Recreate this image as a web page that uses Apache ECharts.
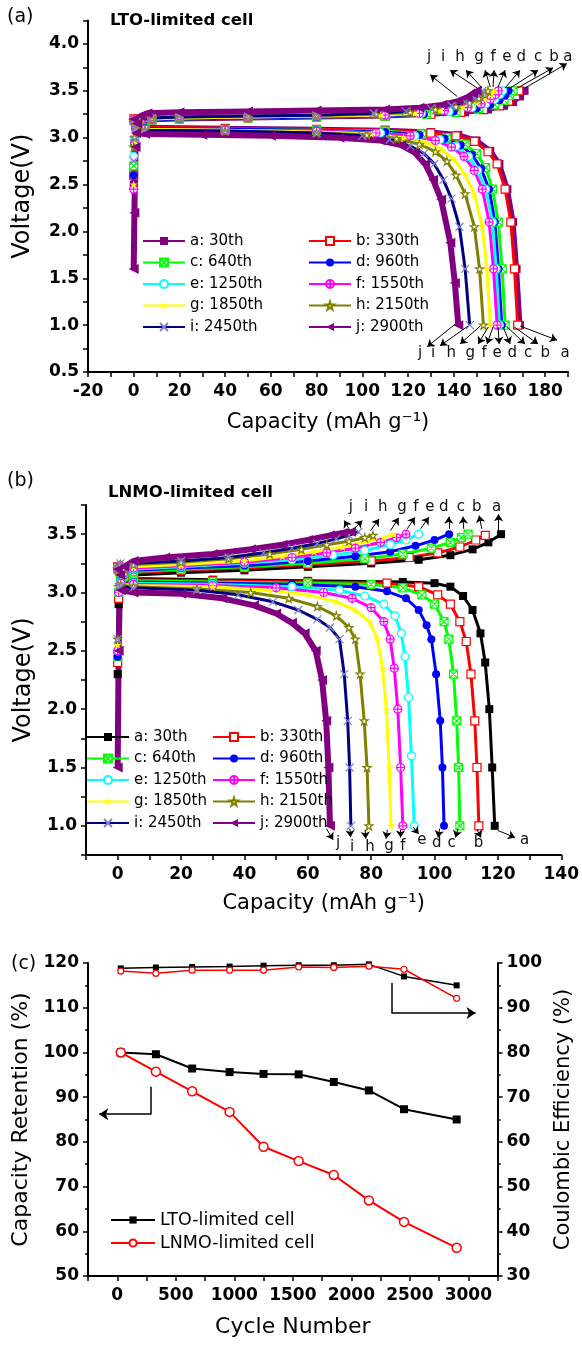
<!DOCTYPE html>
<html><head><meta charset="utf-8">
<script src="https://cdn.jsdelivr.net/npm/echarts@6/dist/echarts.min.js"></script>
<style>html,body{margin:0;padding:0;background:#fff}#c{width:582px;height:1345px}</style>
</head><body><div id="c"></div>
<script>
const FONT = 'DejaVu Sans';
const cycleNames = ['a: 30th','b: 330th','c: 640th','d: 960th','e: 1250th','f: 1550th','g: 1850th','h: 2150th','i: 2450th','j: 2900th'];

// Panel (a) LTO-limited: charge branches [capacity, voltage]
const A_charge = [
 [[0,2.5],[0.4,2.95],[1,3.12],[3,3.17],[8,3.19],[20,3.2],[50,3.21],[80,3.22],[110,3.23],[130,3.25],[145,3.27],[155,3.3],[162,3.34],[166,3.38],[169,3.44],[171,3.5]],
 [[0,2.6],[0.4,2.95],[1,3.12],[3,3.17],[8,3.19],[20,3.2],[50,3.21],[80,3.22],[110,3.23],[130,3.25],[143,3.27],[153,3.3],[160,3.34],[164,3.39],[167,3.45],[168.5,3.5]],
 [[0,2.7],[0.4,2.95],[1,3.12],[3,3.17],[8,3.19],[20,3.2],[50,3.21],[80,3.22],[110,3.23],[128,3.25],[141,3.27],[151,3.31],[158,3.35],[162,3.4],[164.5,3.45],[166,3.5]],
 [[0,2.6],[0.4,2.95],[1,3.12],[3,3.17],[8,3.19],[20,3.2],[50,3.21],[80,3.22],[110,3.235],[127,3.25],[140,3.28],[150,3.31],[156,3.35],[160,3.4],[162.5,3.45],[164,3.5]],
 [[0,2.8],[0.4,2.98],[1,3.13],[3,3.18],[8,3.2],[20,3.21],[50,3.22],[80,3.23],[110,3.24],[126,3.26],[138,3.28],[148,3.32],[154,3.36],[158,3.41],[160.3,3.46],[161.5,3.5]],
 [[0,2.45],[0.4,2.95],[1,3.13],[3,3.18],[8,3.2],[20,3.21],[50,3.22],[80,3.23],[110,3.24],[125,3.26],[136,3.29],[146,3.32],[152,3.36],[156,3.41],[158.3,3.46],[159.5,3.5]],
 [[0,2.5],[0.4,2.95],[1,3.13],[3,3.18],[8,3.2],[20,3.21],[50,3.22],[80,3.23],[108,3.24],[123,3.26],[134,3.29],[144,3.33],[150,3.37],[154,3.42],[156.3,3.46],[157.5,3.5]],
 [[0,2.9],[0.4,3.0],[1,3.14],[3,3.19],[8,3.21],[20,3.22],[50,3.23],[80,3.24],[106,3.25],[121,3.27],[132,3.3],[141,3.33],[147,3.37],[151,3.42],[153.8,3.46],[155,3.5]],
 [[0,2.75],[0.4,2.98],[1,3.14],[3,3.19],[8,3.21],[20,3.22],[50,3.23],[80,3.24],[105,3.26],[119,3.28],[130,3.31],[139,3.34],[145,3.38],[149,3.42],[151.4,3.46],[152.5,3.5]],
 [[0,1.6],[0.3,2.2],[0.8,2.9],[1.5,3.15],[3,3.23],[6,3.26],[20,3.27],[50,3.28],[80,3.29],[110,3.3],[125,3.32],[135,3.35],[142,3.39],[146,3.43],[148.5,3.47],[150,3.5]]
];
// Panel (a) discharge branches
const A_discharge = [
 [[0,3.2],[1,3.12],[5,3.11],[40,3.1],[80,3.09],[110,3.08],[130,3.06],[142,3.03],[150,2.97],[156,2.86],[160,2.72],[163.5,2.45],[166,2.1],[167.5,1.6],[169,1.0]],
 [[0,3.2],[1,3.12],[5,3.11],[40,3.1],[80,3.09],[110,3.08],[130,3.05],[141,3.02],[149,2.96],[155,2.85],[159,2.72],[162.5,2.45],[165,2.1],[166.6,1.6],[168,1.0]],
 [[0,3.19],[1,3.11],[5,3.1],[40,3.09],[80,3.08],[110,3.07],[126,3.04],[137,3.0],[145,2.93],[150,2.83],[154,2.68],[157,2.45],[159.5,2.1],[161.2,1.6],[162.5,1.0]],
 [[0,3.19],[1,3.11],[5,3.1],[40,3.09],[80,3.08],[110,3.06],[125,3.03],[136,2.99],[143,2.92],[148,2.82],[152,2.67],[155.5,2.45],[158,2.1],[159.6,1.6],[161,1.0]],
 [[0,3.19],[1,3.1],[5,3.09],[40,3.08],[80,3.07],[108,3.05],[123,3.02],[134,2.98],[141,2.91],[146.5,2.8],[150.5,2.65],[154,2.45],[157,2.1],[158.6,1.6],[160,1.0]],
 [[0,3.19],[1,3.1],[5,3.09],[40,3.08],[80,3.07],[106,3.05],[121,3.02],[132,2.97],[139,2.9],[144.5,2.8],[149,2.65],[152.5,2.45],[155.5,2.1],[157.4,1.6],[159,1.0]],
 [[0,3.19],[1,3.1],[5,3.09],[40,3.08],[80,3.06],[104,3.04],[118,3.0],[128,2.95],[135,2.87],[140.5,2.76],[145,2.6],[149,2.4],[152.5,2.05],[154.5,1.6],[156,1.0]],
 [[0,3.18],[1,3.09],[5,3.08],[40,3.07],[80,3.05],[102,3.03],[115,2.99],[125,2.93],[132,2.85],[137,2.75],[141,2.6],[145,2.4],[149,2.05],[151.3,1.6],[153,1.0]],
 [[0,3.18],[1,3.09],[5,3.08],[40,3.07],[80,3.05],[100,3.02],[112,2.98],[121,2.91],[127,2.83],[131.5,2.72],[135.5,2.55],[139,2.35],[142.5,2.05],[145,1.6],[147,1.0]],
 [[0,3.2],[1,3.05],[5,3.04],[30,3.03],[60,3.02],[90,3.0],[108,2.97],[117,2.92],[123,2.84],[127.5,2.72],[131,2.55],[134.5,2.34],[138.5,1.88],[140.5,1.45],[142,1.0]]
];
// Panel (b) LNMO-limited: charge branches
const B_charge = [
 [[0,2.3],[0.3,2.9],[0.8,3.2],[2,3.12],[5,3.15],[20,3.17],[40,3.19],[60,3.22],[80,3.25],[95,3.28],[105,3.32],[112,3.37],[117,3.43],[121,3.5]],
 [[0,2.4],[0.3,2.95],[0.8,3.21],[2,3.13],[5,3.17],[20,3.19],[40,3.21],[60,3.24],[80,3.27],[92,3.3],[101,3.34],[108,3.39],[113,3.45],[116,3.49]],
 [[0,2.45],[0.3,3.0],[0.8,3.21],[2,3.14],[5,3.18],[20,3.2],[40,3.22],[60,3.25],[78,3.29],[90,3.33],[99,3.38],[105,3.43],[108.5,3.47],[110.6,3.5]],
 [[0,2.45],[0.3,3.0],[0.8,3.22],[2,3.15],[5,3.19],[20,3.21],[40,3.23],[60,3.27],[75,3.31],[86,3.35],[94,3.4],[100,3.45],[104.6,3.5]],
 [[0,2.5],[0.3,3.0],[0.8,3.22],[2,3.16],[5,3.2],[20,3.22],[40,3.25],[55,3.28],[68,3.32],[78,3.36],[86,3.41],[91,3.45],[95,3.5]],
 [[0,2.5],[0.3,3.0],[0.8,3.23],[2,3.17],[5,3.21],[20,3.23],[40,3.26],[55,3.3],[66,3.34],[75,3.38],[83,3.43],[88,3.47],[91,3.5]],
 [[0,2.55],[0.3,3.02],[0.8,3.23],[2,3.18],[5,3.22],[20,3.24],[40,3.27],[52,3.31],[62,3.35],[71,3.39],[79,3.44],[84,3.47],[87,3.5]],
 [[0,2.6],[0.3,3.05],[0.8,3.24],[2,3.2],[5,3.24],[20,3.26],[35,3.29],[48,3.33],[58,3.37],[66,3.41],[73,3.44],[78,3.47],[80.6,3.49]],
 [[0,2.6],[0.3,3.05],[0.8,3.25],[2,3.21],[5,3.25],[20,3.27],[35,3.3],[46,3.34],[55,3.38],[63,3.42],[69,3.46],[73,3.49],[76,3.52]],
 [[0,1.5],[0.3,2.5],[0.8,3.15],[2,3.22],[5,3.27],[15,3.3],[30,3.33],[42,3.37],[52,3.41],[60,3.45],[67,3.49],[71,3.51],[73.6,3.52]]
];
// Panel (b) discharge branches
const B_discharge = [
 [[0,3.22],[1,3.13],[5,3.12],[30,3.11],[60,3.1],[90,3.09],[100,3.08],[105,3.05],[109,2.97],[112,2.85],[114.5,2.65],[116,2.4],[117.3,2.0],[118.2,1.5],[119,1.0]],
 [[0,3.22],[1,3.12],[5,3.11],[30,3.1],[60,3.09],[85,3.08],[95,3.05],[101,2.98],[105,2.9],[108,2.75],[110,2.58],[111.5,2.3],[112.7,1.9],[113.4,1.5],[114,1.0]],
 [[0,3.2],[1,3.11],[5,3.1],[30,3.09],[60,3.08],[80,3.07],[90,3.04],[96,2.98],[100,2.9],[103,2.75],[104.5,2.6],[106,2.3],[107,1.9],[107.6,1.5],[108,1.0]],
 [[0,3.2],[1,3.1],[5,3.09],[30,3.08],[55,3.07],[75,3.05],[85,3.01],[91,2.95],[95,2.85],[97.5,2.72],[99,2.6],[100.5,2.3],[101.8,1.9],[102.5,1.5],[103,1.0]],
 [[0,3.2],[1,3.09],[5,3.08],[30,3.07],[55,3.05],[70,3.02],[78,2.97],[84,2.9],[87.5,2.8],[89.5,2.65],[90.7,2.45],[91.8,2.1],[92.7,1.6],[93.6,1.0]],
 [[0,3.2],[1,3.08],[5,3.07],[30,3.06],[50,3.04],[65,3.0],[74,2.95],[80,2.87],[84,2.75],[86,2.6],[87.3,2.35],[88.4,2.0],[89.3,1.5],[90,1.0]],
 [[0,3.2],[1,3.07],[5,3.06],[30,3.05],[48,3.02],[60,2.98],[69,2.92],[75,2.85],[79.5,2.75],[82,2.6],[83.6,2.35],[84.8,2.0],[85.7,1.5],[86.3,1.0]],
 [[0,3.2],[1,3.06],[5,3.05],[25,3.03],[42,3.0],[54,2.95],[63,2.88],[69,2.8],[73,2.7],[75,2.6],[76.5,2.3],[77.8,1.9],[78.7,1.5],[79.3,1.0]],
 [[0,3.2],[1,3.05],[5,3.04],[25,3.02],[38,2.98],[49,2.92],[57,2.85],[63,2.77],[67,2.7],[70,2.6],[71.5,2.3],[72.6,1.9],[73.2,1.5],[73.6,1.0]],
 [[0,3.2],[1,3.02],[5,3.0],[20,2.99],[33,2.95],[43,2.89],[50,2.82],[55,2.74],[59,2.65],[62.5,2.5],[64.5,2.25],[65.8,1.9],[66.5,1.5],[67,1.0]]
];

// Panel (c)
const cycleNumbers = [30,330,640,960,1250,1550,1850,2150,2450,2900];
const retentionLTO  = [100,99.6,96.4,95.6,95.2,95.1,93.4,91.5,87.3,85.0];
const retentionLNMO = [100,95.7,91.3,86.7,78.9,75.7,72.6,66.9,62.1,56.3];
const ceLTO  = [98.8,99.0,99.1,99.2,99.4,99.5,99.5,99.7,97.0,95.0];
const ceLNMO = [98.2,97.7,98.4,98.4,98.4,99.1,99.0,99.3,98.6,92.1];

// annotation arrows: [letter, tailX, tailY, headX, headY] and letter positions [letter, x, y]
const A_topArrows = [['j',141.5,3.44,129.7,3.67],['i',150.3,3.53,138.4,3.72],['h',152.4,3.53,145.4,3.72],['g',156,3.54,153.7,3.72],['f',157.2,3.54,157.7,3.72],['e',159.4,3.54,162.5,3.72],['d',162.5,3.53,169,3.72],['c',164.7,3.53,176.9,3.72],['b',167.9,3.53,183.5,3.745],['a',171.2,3.53,189.5,3.79]];
const A_topLetters = [['j',129.2,3.86],['i',135.4,3.86],['h',142.8,3.86],['g',151.1,3.86],['f',157.2,3.86],['e',163.3,3.86],['d',169.5,3.86],['c',176.9,3.86],['b',183.9,3.86],['a',189.9,3.86]];
const A_botArrows = [['j',140.6,1.01,128.4,0.77],['i',146.3,0.99,134.0,0.78],['h',151.6,0.99,142.8,0.80],['g',155.1,0.98,150.7,0.80],['f',157.2,0.98,154.6,0.80],['e',159.4,0.98,159.9,0.80],['d',161.6,0.98,164.7,0.80],['c',163.4,0.98,171.2,0.80],['b',166.5,0.98,176.9,0.80],['a',169.1,0.99,185.2,0.84]];
const A_botLetters = [['j',125.3,0.70],['i',131.0,0.70],['h',138.9,0.70],['g',147.2,0.70],['f',153.3,0.70],['e',159.0,0.70],['d',165.6,0.70],['c',172.6,0.70],['b',180.0,0.70],['a',188.7,0.70]];
const B_topArrows = [['j',73.0,3.546,71.5,3.617],['i',74.6,3.546,77.2,3.617],['h',79.8,3.53,82.5,3.63],['g',86.1,3.53,88.7,3.64],['f',91.4,3.546,93.8,3.645],['e',95.6,3.546,98.2,3.645],['d',104.5,3.546,104.5,3.65],['c',109.2,3.546,109.0,3.65],['b',114.9,3.546,114.1,3.66],['a',120.2,3.53,120.2,3.67]];
const B_topLetters = [['j',73.6,3.73],['i',78.4,3.73],['h',83.7,3.73],['g',89.7,3.73],['f',94.1,3.73],['e',98.5,3.73],['d',102.9,3.73],['c',108.3,3.73],['b',113.3,3.73],['a',119.6,3.73]];
const B_botArrows = [['j',65.9,0.975,68.0,0.88],['i',73.3,0.975,73.5,0.903],['h',78.1,0.967,78.3,0.89],['g',85.1,0.967,84.7,0.89],['f',89.3,0.967,89.3,0.9],['e',93.2,0.99,95.0,0.93],['d',101.6,0.975,101.1,0.9],['c',107.4,0.975,106.6,0.9],['b',113.4,0.967,114.7,0.9],['a',120.0,0.96,125.4,0.9]];
const B_botLetters = [['j',69.6,0.85],['i',74.0,0.815],['h',79.6,0.815],['g',85.6,0.83],['f',90.0,0.83],['e',96.0,0.875],['d',100.7,0.85],['c',105.4,0.85],['b',113.9,0.85],['a',128.4,0.875]];
// panel (c) bent arrows: [x1,y1,x2,y2,x3,y3] (retention-axis units)
const C_arrows = [[289,92.3,289,86.2,-154,86.2],[2343,115.5,2343,108.8,3062,108.8]];

// ---------- styles ----------
const colorsA = ['#800080','#ff0000','#00ff00','#0000ff','#00ffff','#ff00ff','#ffff00','#808000','#000080','#800080'];
const colorsB = ['#000000','#ff0000','#00ff00','#0000ff','#00ffff','#ff00ff','#ffff00','#808000','#000080','#800080'];
const STAR = 'path://M5,0L6.18,3.6L10,3.6L6.9,5.9L8.1,9.5L5,7.3L1.9,9.5L3.1,5.9L0,3.6L3.8,3.6Z';
const SYM = [
 {symbol:'rect', fill:null},
 {symbol:'rect', fill:'#fff'},
 {symbol:'path://M0,0L10,0L10,10L0,10Z M0,0L10,10 M10,0L0,10', fill:'#fff'},
 {symbol:'circle', fill:null},
 {symbol:'circle', fill:'#fff'},
 {symbol:'path://M0,5A5,5,0,1,0,10,5A5,5,0,1,0,0,5Z M5,0L5,10 M0,5L10,5', fill:'#fff'},
 {symbol:STAR, fill:null},
 {symbol:STAR, fill:'#fff'},
 {symbol:'path://M0,0L10,10 M10,0L0,10', fill:'rgba(0,0,0,0)', stroke:'#8080d0'},
 {symbol:'path://M0,5L10,0L10,10Z', fill:null}
];
const lineWidths = [3, 3, 3, 3, 3, 3, 3, 3, 3, 6];

function curve(name, data, i, colors, gi, widths) {
  const d = SYM[i], col = colors[i], filled = d.fill === null;
  return {
    name: name, type: 'line', xAxisIndex: gi, yAxisIndex: gi, data: data,
    symbol: d.symbol, symbolSize: i === 9 ? 10 : 8, showAllSymbol: true,
    animation: false, silent: true,
    lineStyle: {color: col, width: widths[i]},
    itemStyle: {color: filled ? col : d.fill, borderColor: d.stroke || col, borderWidth: filled ? 0 : 1.2}
  };
}
function annot(gi, arrows, letters) {
  return {
    type: 'line', xAxisIndex: gi, yAxisIndex: gi, data: [], silent: true, animation: false, clip: false,
    markLine: {
      silent: true, animation: false, symbol: ['none', 'arrow'], symbolSize: 7, precision: 3,
      lineStyle: {color: '#000', width: 1, type: 'solid'}, label: {show: false},
      emphasis: {disabled: true},
      data: arrows.map(r => [{coord: [r[1], r[2]]}, {coord: [r[3], r[4]]}])
    },
    markPoint: {
      silent: true, animation: false, symbol: 'rect', symbolSize: 1,
      itemStyle: {color: 'rgba(0,0,0,0)'},
      label: {show: true, position: 'inside', formatter: '{b}', fontFamily: FONT, fontSize: 15, color: '#111'},
      data: letters.map(r => ({name: r[0], coord: [r[1], r[2]]}))
    }
  };
}

const series = [];
const widthsA = [5, 3, 3, 3, 3, 3, 3, 3, 3, 6];
cycleNames.forEach((n, i) => {
  series.push(curve(n, A_charge[i], i, colorsA, 0, widthsA));
  series.push(curve(n, A_discharge[i], i, colorsA, 0, widthsA));
});
const namesB = cycleNames.map(n => n + ' ');
namesB.forEach((n, i) => {
  series.push(curve(n, B_charge[i], i, colorsB, 1, lineWidths));
  series.push(curve(n, B_discharge[i], i, colorsB, 1, lineWidths));
});
series.push(annot(0, A_topArrows, A_topLetters));
series.push(annot(0, A_botArrows, A_botLetters));
series.push(annot(1, B_topArrows, B_topLetters));
series.push(annot(1, B_botArrows, B_botLetters));

const zip = (xs, ys) => xs.map((x, k) => [x, ys[k]]);
series.push({name: 'LTO-limited cell', type: 'line', xAxisIndex: 2, yAxisIndex: 2, data: zip(cycleNumbers, retentionLTO),
  symbol: 'rect', symbolSize: 8, animation: false, lineStyle: {color: '#000', width: 2}, itemStyle: {color: '#000'}});
series.push({name: 'LNMO-limited cell', type: 'line', xAxisIndex: 2, yAxisIndex: 2, data: zip(cycleNumbers, retentionLNMO),
  symbol: 'circle', symbolSize: 9, animation: false, lineStyle: {color: '#ff0000', width: 2}, itemStyle: {color: '#fff', borderColor: '#ff0000', borderWidth: 1.5}});
series.push({name: 'CE LTO', type: 'line', xAxisIndex: 2, yAxisIndex: 3, data: zip(cycleNumbers, ceLTO),
  symbol: 'rect', symbolSize: 6, animation: false, lineStyle: {color: '#000', width: 1.5}, itemStyle: {color: '#000'}});
series.push({name: 'CE LNMO', type: 'line', xAxisIndex: 2, yAxisIndex: 3, data: zip(cycleNumbers, ceLNMO),
  symbol: 'circle', symbolSize: 6, animation: false, lineStyle: {color: '#ff0000', width: 1.5}, itemStyle: {color: '#fff', borderColor: '#ff0000', borderWidth: 1.2}});
series.push({type: 'line', xAxisIndex: 2, yAxisIndex: 2, data: [], silent: true, animation: false, clip: false,
  markLine: {silent: true, animation: false, symbol: ['none', 'none'], symbolSize: 9, precision: 3, label: {show: false},
    lineStyle: {color: '#000', width: 1.5, type: 'solid'}, emphasis: {disabled: true},
    data: C_arrows.flatMap(r => [
      [{coord: [r[0], r[1]]}, {coord: [r[2], r[3]]}],
      [{coord: [r[2], r[3]]}, {coord: [r[4], r[5]], symbol: 'arrow'}]
    ])}});

function axis(extra) {
  const base = {
    type: 'value',
    axisLine: {show: true, onZero: false, lineStyle: {color: '#000', width: 2}},
    axisTick: {show: true, inside: false, length: 5, lineStyle: {color: '#000', width: 1.5}},
    minorTick: {show: false},
    splitLine: {show: false},
    axisLabel: {color: '#000', fontFamily: FONT, fontWeight: 'bold', fontSize: 17, margin: 9},
    nameLocation: 'middle',
    nameTextStyle: {color: '#000', fontFamily: FONT, fontSize: 21}
  };
  const out = Object.assign({}, base, extra);
  ['axisLabel', 'nameTextStyle', 'axisTick', 'minorTick'].forEach(k => {
    if (extra[k]) out[k] = Object.assign({}, base[k], extra[k]);
  });
  return out;
}
const half = v => (Math.abs(v * 2 - Math.round(v * 2)) < 1e-6 ? v.toFixed(1) : '');

const legendText = {fontFamily: FONT, fontSize: 15, color: '#000', lineHeight: 16};
const legendBase = {orient: 'vertical', itemWidth: 42, itemHeight: 10, itemGap: 5.5, selectedMode: false, padding: 0, textStyle: legendText};

const option = {
  backgroundColor: '#fff',
  animation: false,
  textStyle: {fontFamily: FONT},
  title: [
    {text: '(a)', left: 7, top: 8, padding: 0, textStyle: {fontFamily: FONT, fontSize: 19, fontWeight: 'normal', color: '#000'}},
    {text: 'LTO-limited cell', left: 110, top: 12, padding: 0, textStyle: {fontFamily: FONT, fontSize: 16.5, fontWeight: 'bold', color: '#000'}},
    {text: '(b)', left: 7, top: 472, padding: 0, textStyle: {fontFamily: FONT, fontSize: 19, fontWeight: 'normal', color: '#000'}},
    {text: 'LNMO-limited cell', left: 108, top: 484, padding: 0, textStyle: {fontFamily: FONT, fontSize: 16.5, fontWeight: 'bold', color: '#000'}},
    {text: '(c)', left: 11, top: 955, padding: 0, textStyle: {fontFamily: FONT, fontSize: 19, fontWeight: 'normal', color: '#000'}}
  ],
  legend: [
    Object.assign({}, legendBase, {data: cycleNames.filter((_, k) => k % 2 === 0), left: 142, top: 233}),
    Object.assign({}, legendBase, {data: cycleNames.filter((_, k) => k % 2 === 1), left: 308, top: 233}),
    Object.assign({}, legendBase, {data: namesB.filter((_, k) => k % 2 === 0), left: 86, top: 729}),
    Object.assign({}, legendBase, {data: namesB.filter((_, k) => k % 2 === 1), left: 212, top: 729}),
    Object.assign({}, legendBase, {data: ['LTO-limited cell', 'LNMO-limited cell'], left: 110, top: 1211, itemWidth: 44, itemHeight: 9, itemGap: 5, textStyle: {fontFamily: FONT, fontSize: 17.5, color: '#000', lineHeight: 18}})
  ],
  grid: [
    {left: 88, top: 20.5, width: 480, height: 351.5},
    {left: 86, top: 505, width: 477, height: 350},
    {left: 88, top: 963, width: 427, height: 313}
  ],
  xAxis: [
    axis({gridIndex: 0, min: -20, max: 190, interval: 10, name: 'Capacity (mAh g\u207B\u00B9)', nameGap: 40,
      axisLabel: {margin: 11, formatter: v => (v % 20 === 0 ? String(v) : '')}}),
    axis({gridIndex: 1, min: -10, max: 140, interval: 10, name: 'Capacity (mAh g\u207B\u00B9)', nameGap: 38,
      axisLabel: {margin: 11, formatter: v => (v % 20 === 0 ? String(v) : '')}}),
    axis({gridIndex: 2, min: -250, max: 3250, interval: 250, name: 'Cycle Number', nameGap: 40,
      nameTextStyle: {fontSize: 22}, axisLabel: {margin: 11, formatter: v => (v % 500 === 0 ? String(v) : '')}})
  ],
  yAxis: [
    axis({gridIndex: 0, min: 0.5, max: 4.25, interval: 0.25, name: 'Voltage(V)', nameGap: 53,
      nameTextStyle: {fontSize: 24}, axisLabel: {formatter: half}}),
    axis({gridIndex: 1, min: 0.75, max: 3.75, interval: 0.25, name: 'Voltage(V)', nameGap: 42,
      nameTextStyle: {fontSize: 24}, axisLabel: {formatter: half}}),
    axis({gridIndex: 2, min: 50, max: 120, interval: 10, name: 'Capacity Retention (%)', nameGap: 52,
      nameTextStyle: {fontSize: 22}, minorTick: {show: true, splitNumber: 2, length: 3, lineStyle: {color: '#000', width: 1.5}}}),
    axis({gridIndex: 2, position: 'right', min: 30, max: 100, interval: 10, name: 'Coulombic Efficiency (%)', nameGap: 43,
      nameTextStyle: {fontSize: 21}, minorTick: {show: true, splitNumber: 2, length: 3, lineStyle: {color: '#000', width: 1.5}}})
  ],
  series: series
};

const chart = echarts.init(document.getElementById('c'), null, {renderer: 'canvas', width: 582, height: 1345});
chart.setOption(option);
</script></body></html>
